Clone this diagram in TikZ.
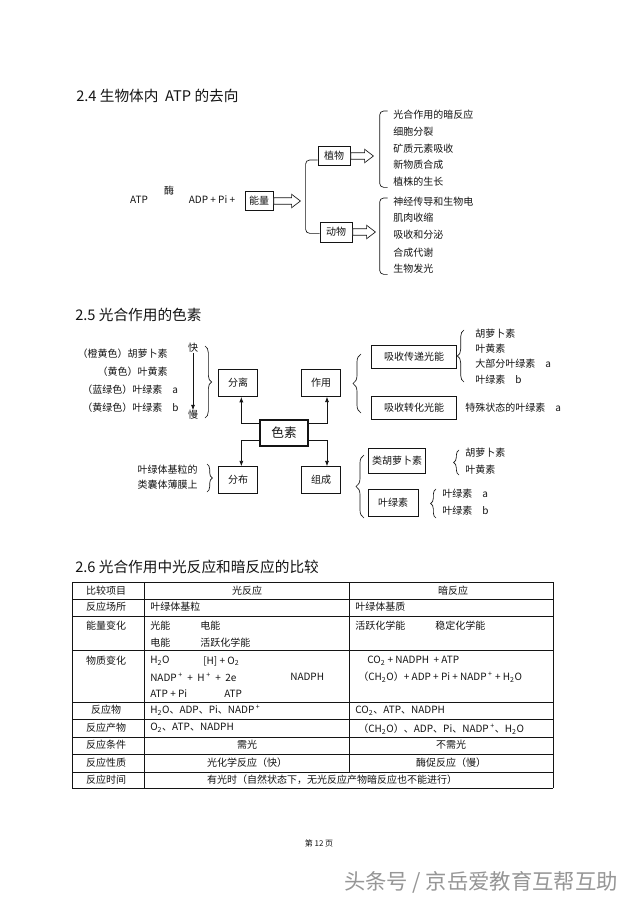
\documentclass[tikz,border=0pt]{standalone}
\usepackage{fontspec}
\setmainfont{Noto Sans CJK SC}
\usepackage{tikz}
\usetikzlibrary{arrows.meta,positioning,shapes.arrows,decorations.pathreplacing}
\definecolor{inkblack}{RGB}{20,20,20}
\definecolor{markgray}{RGB}{150,150,150}

\tikzset{
  txt/.style={font=\fontsize{7.5}{9}\selectfont, inner sep=0pt, text=inkblack},
  head/.style={font=\fontsize{11}{13}\selectfont, anchor=west, inner sep=0pt, text=inkblack},
  box/.style={draw=inkblack, line width=0.6pt, txt, minimum width=#1, minimum height=14pt},
  hollow/.style={single arrow, draw=inkblack, fill=white, line width=0.5pt, inner xsep=0pt,
    inner ysep=2.2pt, single arrow head extend=2.6pt, single arrow tip angle=75,
    minimum height=#1},
  brace/.style={decorate, decoration={brace, amplitude=#1}, line width=0.5pt, draw=inkblack},
  roundbracket/.style={rounded corners=3pt, line width=0.5pt, draw=inkblack},
  conn/.style={-{Latex[length=4pt,width=3pt]}, line width=0.5pt, draw=inkblack},
  grid/.style={line width=0.5pt, draw=inkblack},
}

\begin{document}
\begin{tikzpicture}[x=0.75pt, y=-0.75pt]
        \useasboundingbox (0,0) rectangle (640,906);
        \fill[white] (0,0) rectangle (640,906);

        % 2.4
        \node[head] (h24) at (76,96) {2.4 生物体内\ \ ATP 的去向};
        \node[txt] (atp) at (139,200) {ATP};
        \node[txt] (mei) at (169,191) {酶};
        \node[txt] (adp) at (212,200) {ADP + Pi +};
        \node[box=21pt] (nl) at (259,201) {能量};
        \node[hollow=20pt, right=0pt of nl] (nlar) {};
        \node[box=24pt] (zw) at (334,156) {植物};
        \node[box=24pt, minimum height=15pt] (dw) at (336,232) {动物};
        \node[hollow=17pt, right=0pt of zw] (zwar) {};
        \node[hollow=17pt, right=0pt of dw] (dwar) {};
        \draw[roundbracket] ([yshift=-3pt]zw.west) -- ++(-9pt,0) |- ([yshift=-1pt]dw.west);

        \node[txt, anchor=west] (zwA) at (393,115) {光合作用的暗反应};
        \node[txt, anchor=west] (zwB) at (393,132) {细胞分裂};
        \node[txt, anchor=west] (zwC) at (393,149) {矿质元素吸收};
        \node[txt, anchor=west] (zwD) at (393,165) {新物质合成};
        \node[txt, anchor=west] (zwE) at (393,182) {植株的生长};
        \draw[roundbracket] ([xshift=-4pt,yshift=3pt]zwA.west) -- ++(-6pt,0) |- ([xshift=-4pt,yshift=-4pt]zwE.west);

        \node[txt, anchor=west] (dwA) at (393,202) {神经传导和生物电};
        \node[txt, anchor=west] (dwB) at (393,218) {肌肉收缩};
        \node[txt, anchor=west] (dwC) at (393,235) {吸收和分泌};
        \node[txt, anchor=west] (dwD) at (393,253) {合成代谢};
        \node[txt, anchor=west] (dwE) at (393,269) {生物发光};
        \draw[roundbracket] ([xshift=-4pt,yshift=3pt]dwA.west) -- ++(-6pt,0) |- ([xshift=-4pt,yshift=-4pt]dwE.west);

        % 2.5
        \node[head] (h25) at (75,315) {2.5 光合作用的色素};
        \node[txt, anchor=east] (sA) at (168,354) {（橙黄色）胡萝卜素};
        \node[txt, anchor=east] (sB) at (168,372) {（黄色）叶黄素};
        \node[txt, anchor=west] (sC) at (82,390) {（蓝绿色）叶绿素\quad a};
        \node[txt, anchor=west] (sD) at (82,408) {（黄绿色）叶绿素\quad b};
        \node[txt] (kuai) at (193,348) {快};
        \node[txt] (man) at (193,415) {慢};
        \draw[conn] (kuai) -- (man);
        \draw[brace=5pt] (205,346) -- (205,418);

        \node[box=29pt, minimum height=20pt, line width=0.9pt] (fenli) at (238,383) {分离};
        \node[box=29pt, minimum height=20pt] (zuoyong) at (321,383) {作用};
        \node[box=36pt, minimum height=20pt, line width=1.3pt, font=\fontsize{9.5}{11}\selectfont] (sesu) at (284,433) {色素};
        \node[box=29pt, minimum height=20pt] (fenbu) at (238,480) {分布};
        \node[box=29pt, minimum height=20pt] (zucheng) at (321,480) {组成};
        \draw[conn] ([yshift=7pt]sesu.west) -| ([xshift=2.5pt]fenli.south);
        \draw[conn] ([yshift=7pt]sesu.east) -| ([xshift=4.5pt]zuoyong.south);
        \draw[conn] ([yshift=-5.5pt]sesu.west) -| ([xshift=2.5pt]fenbu.north);
        \draw[conn] ([yshift=-5.5pt]sesu.east) -| ([xshift=4.5pt]zucheng.north);

        \node[txt, anchor=east] (jlA) at (198,470) {叶绿体基粒的};
        \node[txt, anchor=east] (jlB) at (198,485) {类囊体薄膜上};
        \draw[brace=4pt] (207,464) -- (207,492);

        \node[box=64pt, minimum height=17pt] (cd) at (414,357) {吸收传递光能};
        \node[box=64pt, minimum height=17pt] (zh) at (414,408) {吸收转化光能};
        \draw[brace=6pt] (361,413) -- (361,354);
        \node[txt, anchor=west] (cdA) at (475,334) {胡萝卜素};
        \node[txt, anchor=west] (cdB) at (475,349) {叶黄素};
        \node[txt, anchor=west] (cdC) at (475,364) {大部分叶绿素\quad a};
        \node[txt, anchor=west] (cdD) at (475,380) {叶绿素\quad b};
        \draw[brace=5pt] (464,382) -- (464,330);
        \node[txt, anchor=west] (zhA) at (465,408) {特殊状态的叶绿素\quad a};

        \node[box=43pt, minimum height=19pt] (lhl) at (397,461) {类胡萝卜素};
        \node[box=37.5pt, minimum height=20pt] (yls) at (393,503) {叶绿素};
        \draw[brace=6pt] (364,518) -- (364,455);
        \node[txt, anchor=west] (lhlA) at (465,453) {胡萝卜素};
        \node[txt, anchor=west] (lhlB) at (465,470) {叶黄素};
        \draw[brace=4pt] (459,475) -- (459,450);
        \node[txt, anchor=west] (ylsA) at (442,494) {叶绿素\quad a};
        \node[txt, anchor=west] (ylsB) at (442,511) {叶绿素\quad b};
        \draw[brace=4pt] (436,518) -- (436,489);

        % 2.6
        \node[head] (h26) at (75,567) {2.6 光合作用中光反应和暗反应的比较};
        \foreach \y in {582,599,616,650,702,719,737,754,772,788}
          \draw[grid] (72,\y) -- (553,\y);
        \draw[grid] (72,582) -- (72,788);
        \draw[grid] (144,582) -- (144,788);
        \draw[grid] (349,582) -- (349,772);
        \draw[grid] (553,582) -- (553,788);

        \node[txt] (r1a) at (106,591) {比较项目};
        \node[txt] (r1b) at (247,591) {光反应};
        \node[txt] (r1c) at (453,591) {暗反应};

        \node[txt] (r2a) at (106,607) {反应场所};
        \node[txt, anchor=west] (r2b) at (150,607) {叶绿体基粒};
        \node[txt, anchor=west] (r2c) at (355,607) {叶绿体基质};

        \node[txt] (r3a) at (106,626) {能量变化};
        \node[txt, anchor=west] (r3b) at (150,626) {光能};
        \node[txt, anchor=west] (r3c) at (200,626) {电能};
        \node[txt, anchor=west] (r3d) at (150,643) {电能};
        \node[txt, anchor=west] (r3e) at (200,643) {活跃化学能};
        \node[txt, anchor=west] (r3f) at (355,626) {活跃化学能};
        \node[txt, anchor=west] (r3g) at (435,626) {稳定化学能};

        \node[txt] (r4a) at (106,661) {物质变化};
        \node[txt, anchor=west] (r4b) at (150,661) {H\textsubscript{2}O};
        \node[txt, anchor=west] (r4c) at (203,661) {[H] + O\textsubscript{2}};
        \node[txt, anchor=west] (r4d) at (150,677) {NADP\textsuperscript{ +}\ \ +\ \ H\textsuperscript{ +}\ \ +\ \ 2e};
        \node[txt, anchor=west] (r4e) at (290,677) {NADPH};
        \node[txt, anchor=west] (r4f) at (150,694) {ATP + Pi};
        \node[txt, anchor=west] (r4g) at (224,694) {ATP};
        \node[txt, anchor=west] (r4h) at (367,661) {CO\textsubscript{2} + NADPH\ \ + ATP};
        \node[txt, anchor=west] (r4i) at (358,677) {（CH\textsubscript{2}O）+ ADP + Pi + NADP\textsuperscript{ +} + H\textsubscript{2}O};

        \node[txt] (r5a) at (106,710) {反应物};
        \node[txt, anchor=west] (r5b) at (150,710) {H\textsubscript{2}O、ADP、Pi、NADP\textsuperscript{ +}};
        \node[txt, anchor=west] (r5c) at (355,711) {CO\textsubscript{2}、ATP、NADPH};

        \node[txt] (r6a) at (106,728) {反应产物};
        \node[txt, anchor=west] (r6b) at (150,728) {O\textsubscript{2}、ATP、NADPH};
        \node[txt, anchor=west] (r6c) at (358,729) {（CH\textsubscript{2}O）、ADP、Pi、NADP\textsuperscript{ +}、H\textsubscript{2}O};

        \node[txt] (r7a) at (106,745) {反应条件};
        \node[txt] (r7b) at (247,745) {需光};
        \node[txt] (r7c) at (451,745) {不需光};

        \node[txt] (r8a) at (106,763) {反应性质};
        \node[txt] (r8b) at (247,763) {光化学反应（快）};
        \node[txt] (r8c) at (451,763) {酶促反应（慢）};

        \node[txt] (r9a) at (106,780) {反应时间};
        \node[txt] (r9b) at (332,780) {有光时（自然状态下，无光反应产物暗反应也不能进行）};

        % page foot
        \node[txt, font=\fontsize{6}{7}\selectfont] (page) at (319,843) {第 12 页};
        \node[inner sep=0pt, text=markgray, font=\fontsize{16}{18}\selectfont] (wm) at (481,882) {头条号 / 京岳爱教育互帮互助};
\end{tikzpicture}
\end{document}
